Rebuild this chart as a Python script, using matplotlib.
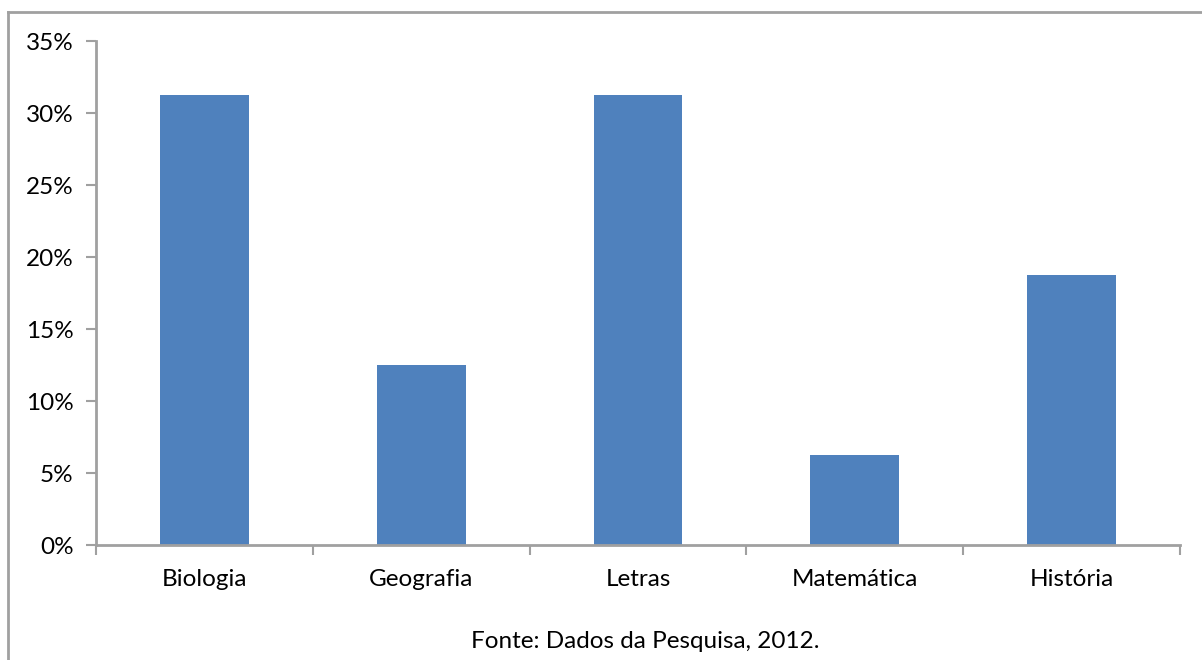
import numpy as np
import matplotlib.pyplot as plt
from matplotlib.lines import Line2D

# dados
cursos = ['Biologia', 'Geografia', 'Letras', 'Matemática', 'História']
valores = [31.25, 12.5, 31.25, 6.25, 18.75]
yticks = [0, 5, 10, 15, 20, 25, 30, 35]

plt.rcParams['font.family'] = ['Lato', 'DejaVu Sans']
cinza = '#A0A0A0'
fs = 17.5

fig = plt.figure(figsize=(12.02, 6.6), dpi=100)
ax = fig.add_axes([96/1202, 1 - 545/660, (1180-96)/1202, (545-41)/660])

x = np.arange(len(cursos))
ax.bar(x, valores, width=0.41, color='#4F81BD')
ax.set_xlim(-0.5, len(cursos) - 0.5)
ax.set_ylim(0, 35)

ax.set_yticks(yticks)
ax.set_yticklabels([f'{v}%' for v in yticks], fontsize=fs)
ax.set_xticks(x)
ax.set_xticklabels(cursos, fontsize=fs)
ax.tick_params(axis='x', length=0, pad=17)
ax.tick_params(axis='y', length=7, width=1.5, color=cinza, pad=9)
# ticks nos limites das categorias
ax.set_xticks(np.arange(-0.5, len(cursos)), minor=True)
ax.tick_params(axis='x', which='minor', length=7, width=1.5, color=cinza)

for s in ['top', 'right']:
    ax.spines[s].set_visible(False)
for s in ['left', 'bottom']:
    ax.spines[s].set_color(cinza)
    ax.spines[s].set_linewidth(2)

# borda da área do gráfico
fig.add_artist(Line2D([8/1202, 8/1202], [0, 1 - 12/660], color=cinza, lw=2))
fig.add_artist(Line2D([8/1202, 1], [1 - 12/660, 1 - 12/660], color=cinza, lw=2))

fig.text(0.537, 1 - 641/660, 'Fonte: Dados da Pesquisa, 2012.', ha='center', va='center', fontsize=fs)

fig.savefig('out.png', dpi=100)
